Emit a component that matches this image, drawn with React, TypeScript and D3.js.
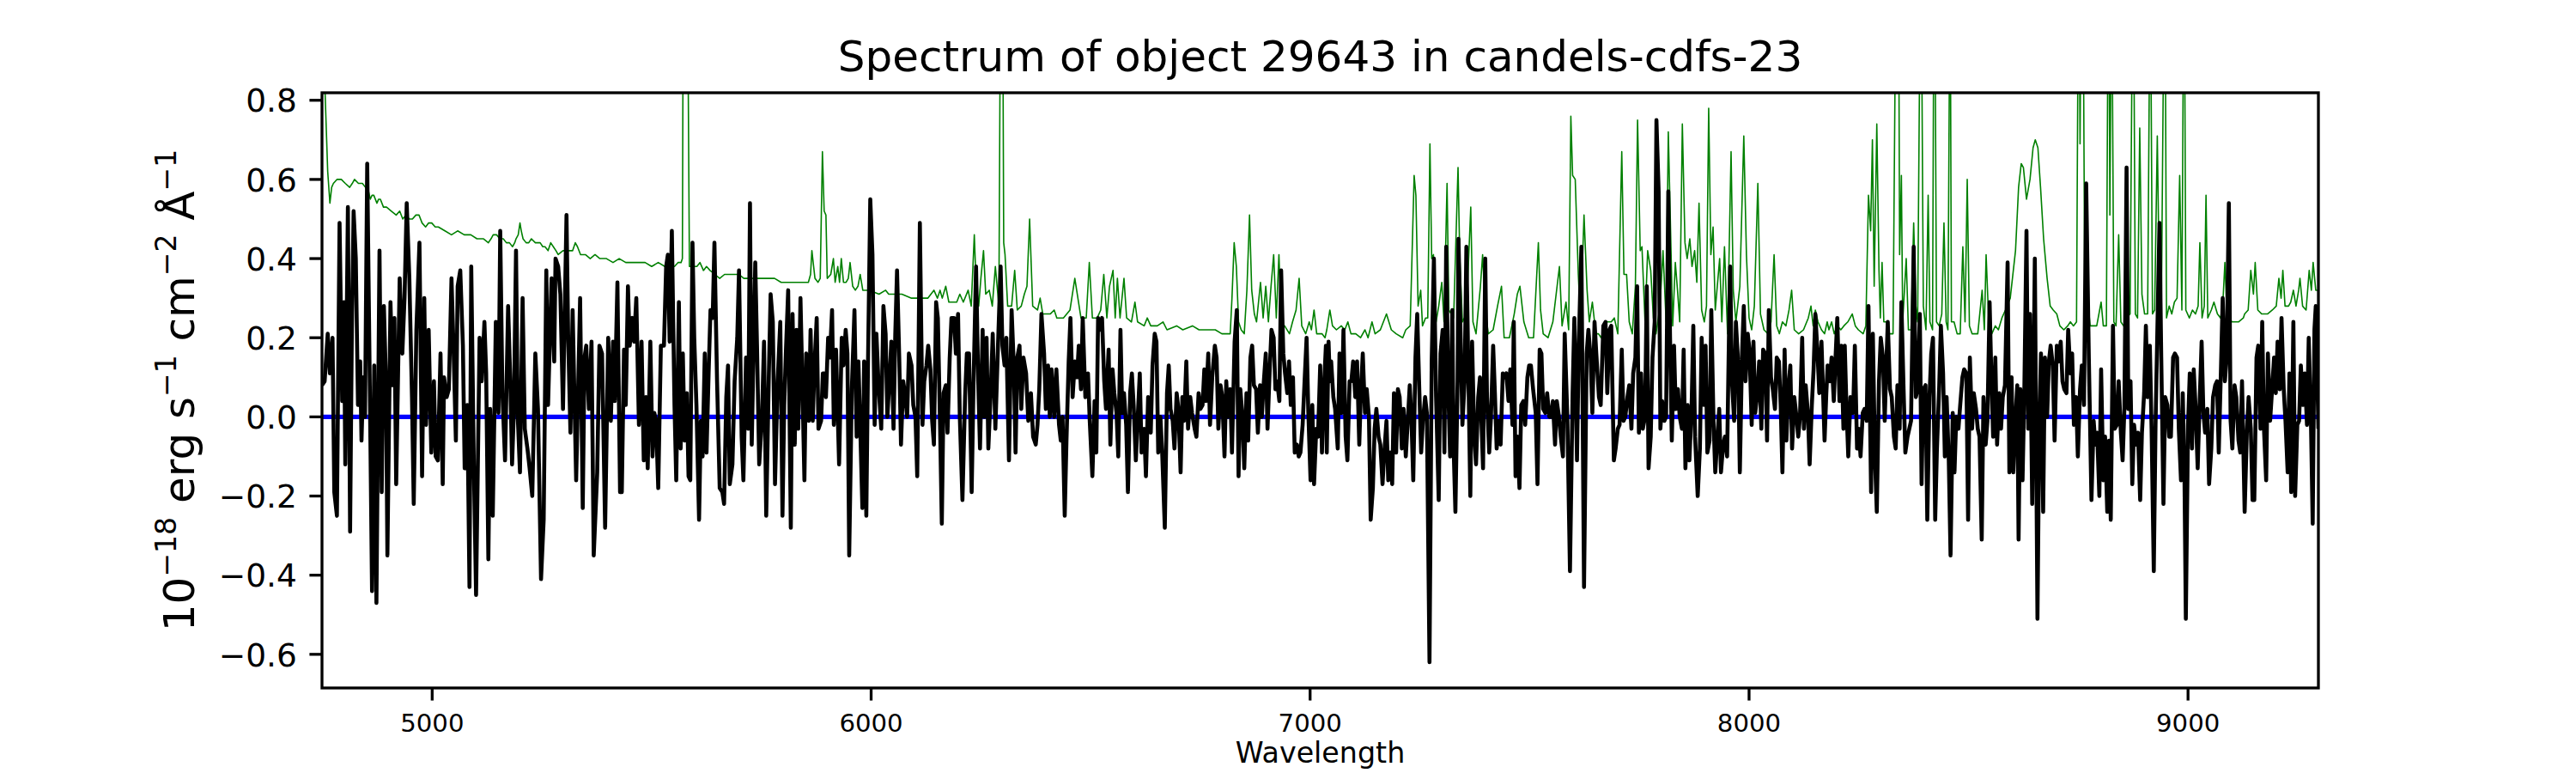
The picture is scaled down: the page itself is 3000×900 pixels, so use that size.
import React from "react";
import * as d3 from "d3";

const W = 3000;
const H = 900;
const plotLeft = 375;
const plotRight = 2700;
const plotTop = 108;
const plotBottom = 801;

const xDomain: [number, number] = [4749, 9297];
const yDomain: [number, number] = [-0.685, 0.819];
const xTicks = [5000, 6000, 7000, 8000, 9000];
const yTicks = [-0.6, -0.4, -0.2, 0, 0.2, 0.4, 0.6, 0.8];
const titleText = "Spectrum of object 29643 in candels-cdfs-23";
const xLabelText = "Wavelength";
const zeroLevel = 0;

// Observed flux (black), wavelength / value pairs
const flux1: [number, number][] = [
  [4749,0.08],[4755,0.09],[4762,0.21],[4767,0.11],[4773,0.20],[4777,-0.19],[4783,-0.25],[4789,0.49],[4795,0.04],[4799,0.29],[4802,-0.12],[4808,0.53],[4813,-0.29],[4817,0.22],[4821,0.52],[4826,0.40],[4831,0.03],[4836,0.14],[4839,-0.06],[4843,0.10],[4847,0.00],[4852,0.64],[4858,0.07],[4863,-0.44],[4868,0.13],[4873,-0.47],[4880,0.42],[4885,-0.19],[4890,0.28],[4895,0.08],[4898,-0.35],[4905,0.29],[4910,0.08],[4914,0.25],[4918,-0.17],[4926,0.35],[4932,0.16],[4937,0.30],[4942,0.54],[4948,0.35],[4954,0.05],[4958,-0.22],[4964,0.22],[4971,0.44],[4977,-0.15],[4982,0.30],[4986,-0.02],[4992,0.22],[4998,-0.09],[5004,0.09],[5008,-0.10],[5013,-0.11],[5019,0.16],[5024,-0.17],[5027,0.10],[5033,0.05],[5038,0.07],[5044,0.35],[5049,0.16],[5054,-0.06],[5058,0.33],[5064,0.37],[5070,0.18],[5074,-0.13],[5080,0.03],[5085,-0.43],[5089,0.38],[5095,-0.13],[5100,-0.45],[5108,0.20],[5113,0.09],[5119,0.24],[5123,0.11],[5128,-0.36],[5132,0.02],[5138,-0.25],[5145,0.24],[5151,0.01],[5155,0.47],[5160,0.06],[5166,-0.11],[5173,0.28],[5178,0.09],[5182,-0.12],[5186,0.01],[5191,0.42],[5195,0.00],[5200,-0.14],[5206,0.30],[5211,-0.03],[5217,-0.08],[5222,-0.13],[5228,-0.20],[5235,0.16],[5241,0.02],[5248,-0.41],[5254,-0.26],[5260,0.37],[5264,0.03],[5272,0.35],[5278,0.14],[5281,0.40],[5287,0.38],[5292,0.31],[5298,0.02],[5306,0.51],[5310,0.19],[5315,-0.04],[5320,0.27],[5328,-0.16],[5337,0.30],[5343,-0.23],[5347,0.15],[5351,0.18],[5357,0.02],[5363,0.19],[5368,-0.35],[5376,-0.14],[5381,0.18],[5387,0.16],[5394,-0.28],[5401,0.20],[5407,-0.01],[5412,0.19],[5416,0.04],[5422,0.34],[5428,-0.19],[5432,-0.19],[5437,0.17],[5441,0.03],[5446,0.33],[5450,0.18],[5456,0.25],[5460,0.19],[5465,0.30],[5471,-0.02],[5477,0.19],[5482,-0.11],[5487,0.05],[5491,-0.13],[5497,0.19],[5502,-0.10],[5506,0.01],[5510,-0.01],[5515,-0.18],[5521,0.18],[5528,0.18],[5533,0.38],[5537,0.41],[5541,0.19],[5546,0.47],[5552,0.03],[5556,-0.16],[5562,0.29],[5566,-0.08],[5571,0.16],[5575,-0.06],[5580,0.06],[5584,-0.15],[5588,-0.16],[5593,0.44],[5597,0.20],[5602,0.03],[5608,-0.26],[5612,-0.01],[5616,-0.10],[5621,0.16],[5625,-0.09],[5630,0.12],[5634,0.27],[5639,0.25],[5643,0.44],[5649,0.09],[5655,-0.18],[5661,-0.19],[5665,-0.22],[5670,0.05],[5674,0.13],[5678,-0.17],[5684,-0.12],[5689,0.09],[5695,0.20],[5699,0.37],[5705,-0.05],[5709,-0.16],[5715,0.15],[5720,-0.03],[5724,0.54],[5728,-0.07],[5736,0.39],[5740,0.18],[5745,-0.12],[5751,-0.01],[5756,0.19],[5761,-0.25],[5767,0.11],[5771,0.31],[5776,0.24],[5781,-0.17],[5787,0.09],[5793,0.24],[5798,-0.25],[5802,0.03],[5806,0.17],[5811,0.32],[5817,-0.28],[5821,0.26],[5826,-0.07],[5830,0.22],[5834,-0.03],[5839,0.30],[5843,0.10],[5848,-0.16],[5852,0.16],[5858,-0.01],[5862,0.22],[5867,-0.01],[5871,0.13],[5876,0.25],[5880,-0.03],[5886,-0.01],[5890,0.11]
];

const flux2: [number, number][] = [
  [5893,0.11],[5897,0.05],[5902,0.20],[5906,0.15],[5911,0.27],[5915,-0.02],[5920,0.17],[5927,-0.12],[5933,0.20],[5937,0.13],[5942,0.22],[5946,0.16],[5950,-0.35],[5956,0.07],[5962,0.27],[5967,-0.05],[5971,0.14],[5975,-0.02],[5980,-0.23],[5984,0.14],[5989,-0.25],[5993,0.15],[5998,0.55],[6003,0.41],[6008,-0.02],[6012,0.21],[6017,0.08],[6023,-0.03],[6028,0.28],[6033,0.21],[6037,0.00],[6042,0.10],[6046,0.19],[6051,-0.03],[6055,0.21],[6059,0.37],[6064,0.15],[6068,-0.07],[6073,0.09],[6077,0.06],[6082,0.00],[6086,0.16],[6092,0.13],[6096,0.03],[6101,0.00],[6105,-0.15],[6111,0.49],[6117,-0.02],[6121,0.09],[6126,0.13],[6130,0.18],[6135,0.12],[6139,-0.01],[6143,-0.07],[6148,0.29],[6152,0.25],[6157,-0.02],[6161,-0.27],[6165,0.06],[6170,0.08],[6174,-0.04],[6179,0.15],[6183,0.25],[6189,0.25],[6193,0.16],[6198,0.26],[6202,0.00],[6208,-0.21],[6214,0.05],[6218,0.16],[6223,0.16],[6229,-0.19],[6233,0.07],[6239,0.38],[6244,0.09],[6248,-0.08],[6254,0.22],[6258,0.00],[6263,0.20],[6267,-0.08],[6272,0.05],[6277,0.21],[6283,-0.03],[6289,0.18],[6295,0.38],[6299,0.18],[6304,0.13],[6308,0.20],[6314,-0.11],[6320,0.27],[6325,0.13],[6329,-0.09],[6333,0.15],[6338,0.18],[6342,0.02],[6347,0.15],[6353,0.11],[6358,-0.01],[6364,0.06],[6369,-0.05],[6375,-0.07],[6379,-0.02],[6383,0.07],[6388,0.26],[6394,0.16],[6398,0.02],[6403,0.13],[6407,0.00],[6411,0.12],[6417,0.00],[6422,0.12],[6428,-0.02],[6432,-0.06],[6436,0.00],[6441,-0.25],[6445,-0.06],[6450,0.14],[6454,0.25],[6459,0.05],[6464,0.14],[6469,0.10],[6473,0.18],[6478,0.07],[6482,0.25],[6488,0.05],[6494,0.11],[6498,-0.01],[6504,-0.15],[6509,0.04],[6513,-0.09],[6517,0.25],[6522,0.22],[6526,0.25],[6531,0.09],[6535,0.02],[6541,0.17],[6545,-0.07],[6550,0.12],[6554,0.06],[6559,0.01],[6563,-0.10],[6568,0.22],[6572,0.01],[6576,0.06],[6581,-0.02],[6585,-0.19],[6590,0.06],[6594,0.11],[6598,0.03],[6603,-0.11],[6607,-0.01],[6612,0.11],[6616,-0.09],[6622,-0.03],[6626,-0.15],[6631,0.05],[6637,-0.04],[6641,0.13],[6646,0.21],[6650,0.19],[6654,-0.09],[6659,0.00],[6663,-0.09],[6669,-0.28],[6674,0.06],[6678,0.13],[6682,0.02],[6687,-0.01],[6691,-0.08],[6696,0.06],[6700,0.02],[6705,-0.14],[6709,0.05],[6713,-0.01],[6718,0.14],[6722,-0.03],[6727,0.05],[6731,0.01],[6737,-0.03],[6741,-0.05],[6746,0.06],[6750,0.02],[6755,0.03],[6759,0.12],[6763,0.04],[6768,0.16],[6772,-0.02],[6777,0.10],[6783,0.18],[6787,0.15],[6791,-0.03],[6796,0.08],[6800,0.05],[6805,-0.10],[6809,0.09],[6813,0.00],[6818,0.07],[6822,-0.09],[6828,0.19],[6833,0.27],[6837,-0.15],[6841,0.07],[6846,0.00],[6850,-0.13],[6855,0.06],[6859,-0.06],[6864,0.15],[6868,0.18],[6872,0.08],[6877,0.07],[6881,-0.04],[6886,0.08],[6890,0.00],[6894,0.08],[6899,0.16],[6903,-0.03],[6908,0.12],[6912,0.22],[6917,0.20],[6921,0.07],[6925,0.09],[6930,0.04],[6934,0.37],[6939,0.16],[6943,0.11],[6948,0.06],[6952,0.14],[6956,0.03],[6961,0.10],[6965,-0.09],[6970,-0.07],[6974,-0.10],[6978,-0.09],[6983,-0.02],[6987,0.08],[6992,0.20],[6996,0.01],[7001,-0.16],[7005,0.03],[7009,-0.17],[7014,-0.03],[7018,-0.05],[7023,0.13],[7027,-0.09],[7031,0.06],[7036,0.18]
];

const flux3: [number, number][] = [
  [7038,-0.09],[7042,0.19],[7045,0.09],[7048,0.14],[7053,0.05],[7057,0.02],[7063,-0.08],[7067,0.16],[7072,0.01],[7076,0.22],[7081,-0.05],[7085,-0.11],[7090,0.09],[7094,0.09],[7098,0.14],[7103,0.05],[7107,0.14],[7112,-0.07],[7116,0.07],[7120,0.16],[7125,0.01],[7129,0.07],[7134,0.00],[7138,-0.26],[7143,-0.18],[7147,-0.03],[7151,0.02],[7156,-0.05],[7160,-0.07],[7165,-0.17],[7169,-0.09],[7174,-0.01],[7178,-0.16],[7182,-0.09],[7187,-0.17],[7191,0.06],[7196,-0.09],[7200,0.07],[7204,0.05],[7209,-0.08],[7213,0.02],[7218,-0.10],[7222,-0.02],[7227,0.08],[7231,-0.01],[7235,-0.16],[7240,0.15],[7244,0.26],[7249,0.06],[7253,-0.09],[7257,-0.01],[7262,0.05],[7266,0.01],[7272,-0.62],[7277,0.14],[7282,0.40],[7287,0.05],[7293,-0.21],[7297,0.16],[7302,0.22],[7306,-0.09],[7310,0.43],[7315,0.06],[7319,-0.10],[7324,0.27],[7327,-0.08],[7331,-0.24],[7336,0.09],[7338,0.45],[7343,0.20],[7347,-0.02],[7352,0.09],[7356,0.43],[7361,0.08],[7365,-0.20],[7369,0.19],[7374,-0.05],[7378,-0.12],[7383,0.05],[7387,0.10],[7390,0.00],[7394,-0.13],[7399,0.40],[7403,0.05],[7408,-0.09],[7412,0.00],[7417,0.18],[7421,0.06],[7425,-0.08],[7430,-0.01],[7434,-0.07],[7439,0.11],[7443,0.10],[7447,0.11],[7452,0.04],[7456,0.12],[7461,-0.02],[7464,0.24],[7468,-0.15],[7472,-0.05],[7477,-0.18],[7481,0.03],[7486,0.04],[7490,-0.02],[7495,0.10],[7499,0.13],[7503,0.13],[7508,0.07],[7514,0.01],[7518,-0.17],[7523,0.17],[7527,0.16],[7531,0.02],[7536,0.01],[7540,0.06],[7545,0.00],[7549,0.00],[7553,0.04],[7558,-0.07],[7562,0.04],[7567,0.00],[7571,-0.05],[7576,-0.10],[7580,0.21],[7586,0.00],[7592,-0.39],[7598,0.06],[7602,0.25],[7608,-0.11],[7612,0.18],[7618,0.43],[7624,-0.43],[7630,0.16],[7634,0.22],[7639,0.15],[7643,0.01],[7648,0.24],[7652,0.16],[7658,0.05],[7662,0.03],[7668,0.23],[7673,0.24],[7677,0.06],[7682,0.22],[7686,0.23],[7692,-0.11],[7696,-0.08],[7701,-0.03],[7705,-0.02],[7710,0.17],[7714,-0.01],[7718,0.00],[7723,0.05],[7727,0.08],[7732,-0.03],[7736,0.11],[7741,0.15],[7745,0.33],[7749,-0.04],[7754,0.11],[7758,-0.03],[7763,0.00],[7767,0.33],[7771,-0.13],[7776,-0.05],[7780,0.15],[7785,0.24],[7789,0.75],[7794,0.57],[7798,-0.03],[7802,0.04],[7807,-0.01],[7811,0.00],[7816,0.57],[7820,0.20],[7824,-0.06],[7829,0.18],[7833,0.02],[7838,0.07],[7842,0.00],[7847,-0.03],[7851,0.17],[7855,-0.13],[7860,0.03],[7864,-0.11],[7869,0.02],[7873,0.23],[7877,-0.05],[7883,-0.20],[7888,-0.08],[7892,0.20],[7897,0.03],[7901,0.18],[7905,-0.09],[7910,-0.06],[7914,0.27],[7919,-0.01],[7923,-0.14],[7928,-0.05],[7932,0.02],[7936,-0.14],[7941,-0.07],[7945,-0.05],[7950,-0.10],[7954,0.19],[7957,0.38],[7961,0.09],[7966,-0.01],[7970,0.24],[7975,0.14],[7979,-0.14],[7984,0.16],[7988,0.28],[7992,0.09],[7997,0.21],[8001,0.17],[8006,-0.02],[8010,0.19],[8014,0.01],[8019,0.06],[8023,0.14],[8028,-0.03],[8032,0.17],[8037,0.16],[8041,-0.06],[8045,0.27],[8050,0.10],[8054,0.07],[8059,0.02],[8063,0.15],[8068,0.14],[8072,0.03],[8076,-0.14],[8081,0.17],[8085,-0.06],[8090,0.08],[8094,0.13],[8098,-0.08],[8103,0.05],[8107,0.01],[8112,-0.05],[8116,0.00],[8121,0.20],[8125,-0.03],[8129,0.08],[8134,0.01],[8138,-0.12],[8143,0.03],[8147,0.12],[8151,0.26],[8156,0.16],[8160,0.06],[8165,0.19]
];

const flux4: [number, number][] = [
  [8172,-0.06],[8176,0.06],[8179,0.13],[8184,0.09],[8188,0.15],[8193,0.04],[8197,0.15],[8201,0.25],[8206,0.04],[8210,0.18],[8215,-0.03],[8218,0.18],[8222,0.02],[8226,-0.10],[8231,0.05],[8237,0.01],[8241,0.18],[8246,-0.08],[8250,-0.03],[8254,-0.10],[8259,0.01],[8263,0.02],[8268,-0.01],[8272,0.28],[8278,-0.19],[8282,0.21],[8287,-0.11],[8291,-0.24],[8296,0.09],[8300,0.20],[8305,0.15],[8309,-0.01],[8313,0.14],[8316,0.24],[8321,0.07],[8325,0.05],[8330,-0.05],[8334,-0.08],[8338,0.08],[8343,-0.03],[8347,0.29],[8352,0.07],[8356,-0.09],[8361,-0.05],[8365,-0.03],[8369,-0.01],[8375,0.43],[8380,0.05],[8384,0.07],[8389,0.26],[8393,-0.17],[8397,0.07],[8402,0.08],[8406,-0.26],[8411,0.05],[8415,0.16],[8419,0.20],[8424,-0.26],[8428,-0.08],[8433,0.07],[8437,0.23],[8442,0.11],[8446,-0.10],[8450,0.05],[8455,-0.11],[8459,-0.35],[8464,0.01],[8468,-0.14],[8472,0.00],[8477,-0.03],[8481,0.03],[8486,0.10],[8490,0.12],[8495,0.11],[8499,-0.26],[8503,0.15],[8508,-0.03],[8512,0.06],[8517,0.02],[8521,-0.03],[8525,-0.05],[8530,-0.31],[8534,0.05],[8539,-0.07],[8543,-0.01],[8548,0.29],[8552,0.10],[8556,-0.05],[8561,0.15],[8565,-0.07],[8570,0.06],[8574,-0.03],[8578,0.05],[8583,0.08],[8589,0.39],[8593,-0.14],[8598,0.10],[8602,-0.14],[8606,-0.02],[8611,0.08],[8614,-0.31],[8618,0.07],[8623,-0.16],[8627,0.06],[8632,0.47],[8636,-0.03],[8640,0.26],[8645,-0.22],[8651,0.40],[8657,-0.51],[8661,-0.03],[8665,0.16],[8670,-0.24],[8674,0.15],[8679,0.00],[8683,0.14],[8687,0.18],[8692,0.13],[8696,-0.06],[8701,0.18],[8705,0.14],[8710,0.19],[8714,0.09],[8718,0.07],[8723,0.06],[8727,0.22],[8732,0.11],[8736,0.16],[8740,-0.02],[8745,0.05],[8749,-0.10],[8754,0.07],[8758,0.13],[8763,0.03],[8768,0.59],[8774,0.15],[8780,-0.21],[8785,-0.01],[8789,-0.07],[8793,-0.04],[8798,-0.20],[8802,0.12],[8807,-0.16],[8811,-0.05],[8816,-0.24],[8820,-0.06],[8824,-0.26],[8829,0.23],[8833,-0.03],[8838,-0.02],[8842,0.09],[8847,-0.04],[8851,-0.11],[8855,0.02],[8860,0.63],[8864,0.02],[8869,0.09],[8873,-0.17],[8877,-0.02],[8882,-0.07],[8886,-0.04],[8891,-0.21],[8895,-0.04],[8900,0.06],[8904,0.23],[8908,0.05],[8913,0.18],[8917,-0.03],[8922,-0.39],[8926,-0.02],[8930,0.21],[8935,0.49],[8939,0.15],[8944,-0.22],[8948,0.05],[8953,0.03],[8957,-0.05],[8961,-0.05],[8966,0.15],[8970,0.16],[8975,0.15],[8979,-0.03],[8984,-0.16],[8988,0.06],[8992,-0.16],[8995,-0.51],[9000,-0.02],[9004,0.11],[9009,-0.08],[9013,0.12],[9017,0.03],[9022,-0.13],[9026,0.02],[9031,0.19],[9035,0.01],[9039,-0.04],[9044,0.02],[9048,-0.17],[9053,-0.08],[9057,0.05],[9062,0.08],[9066,0.09],[9070,-0.09],[9075,0.12],[9079,0.30],[9084,0.09],[9088,0.15],[9093,0.54],[9097,-0.01],[9101,-0.08],[9106,0.08],[9110,0.05],[9115,-0.06],[9119,-0.09],[9123,0.09],[9129,-0.24],[9134,-0.04],[9138,0.05],[9143,-0.03],[9147,-0.21],[9151,-0.21],[9156,0.15],[9160,0.18],[9165,-0.03],[9169,0.24],[9173,-0.03],[9178,-0.16],[9182,0.16],[9187,-0.01],[9191,0.06],[9196,0.15],[9200,0.06],[9204,0.19],[9209,0.07],[9213,0.25],[9218,0.07],[9222,-0.01],[9227,-0.14],[9231,0.11],[9235,-0.19],[9240,0.24],[9244,-0.20],[9249,-0.02],[9253,-0.01],[9257,0.13],[9262,0.03],[9266,0.11],[9271,-0.02],[9275,0.20],[9280,-0.01],[9284,-0.27],[9288,0.22],[9291,0.28],[9297,-0.03]
];

// Uncertainty / sky spectrum (green)
const err1: [number, number][] = [
  [4749,1.0],[4756,0.82],[4762,0.62],[4767,0.54],[4771,0.58],[4775,0.59],[4783,0.60],[4793,0.60],[4802,0.59],[4812,0.58],[4818,0.59],[4823,0.60],[4832,0.59],[4841,0.59],[4848,0.58],[4855,0.57],[4859,0.55],[4863,0.56],[4867,0.56],[4874,0.54],[4878,0.55],[4882,0.55],[4889,0.53],[4896,0.53],[4907,0.52],[4918,0.51],[4926,0.52],[4933,0.50],[4940,0.51],[4948,0.50],[4955,0.50],[4963,0.51],[4970,0.51],[4977,0.49],[4985,0.48],[4992,0.49],[4999,0.49],[5007,0.48],[5014,0.48],[5029,0.47],[5044,0.46],[5058,0.47],[5073,0.46],[5088,0.46],[5102,0.45],[5117,0.45],[5128,0.44],[5134,0.45],[5139,0.46],[5147,0.46],[5154,0.45],[5162,0.45],[5169,0.44],[5176,0.44],[5183,0.43],[5188,0.44],[5191,0.45],[5196,0.46],[5200,0.49],[5203,0.47],[5207,0.45],[5214,0.44],[5220,0.44],[5226,0.45],[5235,0.44],[5246,0.44],[5252,0.43],[5257,0.43],[5264,0.42],[5270,0.44],[5276,0.43],[5282,0.42],[5287,0.41],[5298,0.42],[5309,0.42],[5320,0.42],[5326,0.44],[5331,0.43],[5338,0.41],[5349,0.41],[5360,0.40],[5371,0.41],[5382,0.40],[5397,0.40],[5412,0.39],[5426,0.40],[5441,0.39],[5456,0.39],[5471,0.39],[5485,0.39],[5500,0.38],[5515,0.39],[5530,0.38],[5541,0.38],[5552,0.38],[5560,0.39],[5567,0.39],[5570,0.40],[5573,1.5],[5579,1.6],[5583,0.9],[5586,0.38],[5595,0.38],[5603,0.38],[5610,0.39],[5618,0.37],[5625,0.38],[5633,0.37],[5644,0.36],[5655,0.35],[5666,0.36],[5677,0.36],[5688,0.36],[5699,0.36],[5710,0.35],[5721,0.35],[5736,0.35],[5751,0.35],[5765,0.35],[5780,0.35],[5795,0.34],[5809,0.34],[5824,0.34],[5839,0.34],[5850,0.34],[5857,0.34],[5862,0.36],[5865,0.42],[5869,0.38],[5872,0.35],[5879,0.34],[5884,0.35],[5889,0.67]
];

const err2: [number, number][] = [
  [5893,0.52],[5897,0.51],[5900,0.35],[5908,0.36],[5914,0.40],[5918,0.34],[5924,0.38],[5928,0.34],[5932,0.40],[5937,0.34],[5943,0.34],[5948,0.35],[5952,0.39],[5958,0.33],[5964,0.32],[5970,0.33],[5975,0.36],[5981,0.32],[5996,0.32],[6018,0.31],[6033,0.32],[6040,0.31],[6055,0.31],[6070,0.31],[6092,0.30],[6114,0.30],[6129,0.30],[6143,0.32],[6151,0.30],[6157,0.32],[6162,0.30],[6170,0.33],[6177,0.29],[6195,0.29],[6202,0.31],[6210,0.29],[6221,0.32],[6228,0.28],[6235,0.46],[6239,0.34],[6245,0.28],[6250,0.35],[6256,0.42],[6261,0.31],[6269,0.32],[6276,0.28],[6283,0.38],[6291,0.28],[6296,1.4],[6299,1.3],[6302,0.44],[6305,0.41],[6311,0.28],[6320,0.28],[6327,0.37],[6333,0.27],[6342,0.28],[6349,0.31],[6355,0.33],[6361,0.50],[6368,0.28],[6379,0.27],[6385,0.30],[6391,0.26],[6401,0.26],[6408,0.26],[6417,0.27],[6423,0.25],[6438,0.25],[6453,0.27],[6464,0.35],[6471,0.30],[6478,0.25],[6490,0.25],[6497,0.39],[6504,0.25],[6515,0.25],[6523,0.27],[6530,0.36],[6537,0.25],[6543,0.33],[6551,0.37],[6556,0.25],[6561,0.35],[6567,0.25],[6576,0.35],[6582,0.25],[6593,0.24],[6601,0.29],[6607,0.24],[6622,0.23],[6629,0.25],[6637,0.23],[6652,0.23],[6665,0.24],[6674,0.22],[6696,0.23],[6710,0.22],[6732,0.23],[6747,0.22],[6769,0.22],[6784,0.22],[6799,0.21],[6818,0.21],[6822,0.30],[6827,0.44],[6832,0.38],[6837,0.24],[6843,0.22],[6850,0.21],[6856,0.32],[6862,0.51],[6867,0.32],[6873,0.26],[6878,0.24],[6887,0.34],[6893,0.25],[6899,0.33],[6905,0.24],[6911,0.33],[6917,0.41],[6923,0.25],[6929,0.41],[6935,0.22],[6942,0.23],[6953,0.21],[6960,0.24],[6968,0.27],[6975,0.35],[6981,0.23],[6990,0.21],[6998,0.24],[7003,0.22],[7009,0.27],[7015,0.21],[7027,0.21],[7034,0.20]
];

const err3: [number, number][] = [
  [7038,0.22],[7045,0.27],[7051,0.23],[7060,0.22],[7071,0.23],[7079,0.22],[7086,0.24],[7093,0.21],[7104,0.21],[7115,0.20],[7125,0.22],[7132,0.20],[7141,0.24],[7148,0.21],[7160,0.22],[7174,0.26],[7185,0.22],[7196,0.21],[7211,0.20],[7218,0.22],[7228,0.23],[7237,0.61],[7241,0.56],[7246,0.28],[7252,0.32],[7256,0.23],[7263,0.25],[7268,0.25],[7273,0.69],[7277,0.40],[7281,0.41],[7287,0.24],[7293,0.28],[7300,0.34],[7305,0.24],[7312,0.59],[7316,0.27],[7327,0.25],[7337,0.63],[7341,0.40],[7347,0.24],[7356,0.26],[7366,0.53],[7371,0.24],[7378,0.21],[7388,0.33],[7393,0.41],[7399,0.27],[7406,0.21],[7417,0.22],[7427,0.28],[7436,0.33],[7442,0.20],[7454,0.20],[7465,0.26],[7472,0.31],[7478,0.33],[7487,0.24],[7498,0.20],[7509,0.20],[7520,0.44],[7525,0.27],[7531,0.21],[7542,0.20],[7553,0.24],[7568,0.38],[7574,0.23],[7583,0.29],[7589,0.22],[7594,0.76],[7598,0.61],[7604,0.60],[7611,0.36],[7616,0.24],[7624,0.51],[7631,0.32],[7636,0.24],[7643,0.29],[7651,0.21],[7657,0.21],[7663,0.20],[7675,0.24],[7686,0.24],[7693,0.25],[7701,0.21],[7710,0.67],[7715,0.36],[7721,0.36],[7727,0.24],[7734,0.21],[7741,0.33],[7746,0.75],[7752,0.42],[7756,0.43],[7763,0.24],[7769,0.42],[7776,0.37],[7782,0.25],[7788,0.21],[7797,0.28],[7804,0.42],[7811,0.24],[7816,0.72],[7820,0.53],[7826,0.23],[7832,0.39],[7837,0.32],[7842,0.24],[7848,0.74],[7854,0.44],[7859,0.40],[7865,0.45],[7870,0.38],[7876,0.42],[7881,0.34],[7886,0.54],[7892,0.27],[7898,0.24],[7903,0.28],[7908,0.78],[7913,0.41],[7918,0.48],[7923,0.27],[7933,0.40],[7938,0.24],[7944,0.43],[7951,0.21],[7959,0.67],[7964,0.32],[7970,0.24],[7979,0.33],[7988,0.71],[7994,0.41],[8000,0.25],[8006,0.22],[8012,0.28],[8020,0.59],[8026,0.26],[8034,0.22],[8043,0.21],[8050,0.24],[8057,0.41],[8063,0.23],[8069,0.21],[8076,0.24],[8084,0.23],[8091,0.27],[8097,0.32],[8103,0.22],[8113,0.21],[8124,0.22],[8135,0.25],[8141,0.28],[8146,0.23],[8151,0.27],[8157,0.24],[8165,0.22]
];

const err4: [number, number][] = [
  [8172,0.21],[8178,0.24],[8182,0.22],[8188,0.24],[8194,0.21],[8201,0.23],[8209,0.22],[8216,0.23],[8225,0.24],[8235,0.26],[8242,0.23],[8249,0.22],[8260,0.21],[8266,0.23],[8272,0.56],[8277,0.47],[8281,0.70],[8285,0.33],[8291,0.74],[8296,0.37],[8299,0.25],[8303,0.39],[8307,0.24],[8313,0.24],[8319,0.21],[8328,0.21],[8335,1.2],[8340,1.3],[8343,0.41],[8347,0.61],[8350,0.24],[8358,0.40],[8363,0.22],[8369,0.22],[8375,0.49],[8380,0.28],[8384,0.24],[8390,1.1],[8393,1.0],[8397,0.28],[8403,0.22],[8408,0.56],[8412,0.24],[8418,0.22],[8422,1.4],[8427,0.24],[8433,0.23],[8439,0.26],[8444,0.49],[8449,0.24],[8453,0.22],[8458,1.2],[8461,0.24],[8467,0.24],[8474,0.21],[8481,0.21],[8487,0.43],[8492,0.24],[8497,0.60],[8502,0.23],[8508,0.21],[8514,0.21],[8521,0.21],[8531,0.32],[8536,0.22],[8540,0.41],[8546,0.24],[8553,0.21],[8561,0.23],[8568,0.22],[8576,0.25],[8584,0.27],[8595,0.30],[8607,0.42],[8614,0.58],[8620,0.64],[8625,0.63],[8632,0.55],[8640,0.60],[8647,0.68],[8652,0.70],[8658,0.68],[8664,0.58],[8671,0.45],[8679,0.35],[8686,0.28],[8693,0.27],[8701,0.26],[8708,0.23],[8717,0.22],[8726,0.23],[8732,0.24],[8739,0.23],[8746,0.24],[8751,1.3],[8754,0.69],[8757,1.2],[8761,1.1],[8765,0.25],[8771,0.30],[8777,0.23],[8785,0.23],[8792,0.23],[8802,0.29],[8807,0.23],[8814,0.23],[8819,1.3],[8822,0.51],[8826,1.2],[8831,0.24],[8836,0.23],[8842,0.46],[8847,0.24],[8853,0.23],[8860,0.25],[8868,0.26],[8875,1.3],[8880,0.26],[8885,0.25],[8890,0.73],[8895,0.31],[8901,0.26],[8908,0.26],[8914,1.2],[8919,0.26],[8924,0.27],[8930,0.71],[8935,0.30],[8939,0.24],[8947,1.3],[8951,0.25],[8957,0.28],[8963,0.26],[8969,0.29],[8975,0.30],[8981,0.61],[8986,0.27],[8991,1.3],[8995,0.27],[9003,0.25],[9010,0.27],[9017,0.26],[9023,0.28],[9027,0.44],[9032,0.25],[9037,0.28],[9041,0.56],[9045,0.25],[9053,0.27],[9059,0.29],[9067,0.26],[9074,0.25],[9079,0.28],[9084,0.39],[9089,0.25],[9101,0.24],[9115,0.24],[9126,0.25],[9129,0.26],[9137,0.27],[9143,0.37],[9149,0.31],[9153,0.39],[9159,0.27],[9168,0.26],[9181,0.26],[9192,0.27],[9201,0.28],[9207,0.35],[9212,0.30],[9216,0.37],[9221,0.28],[9229,0.28],[9234,0.29],[9240,0.32],[9246,0.28],[9252,0.32],[9255,0.35],[9261,0.28],[9269,0.27],[9276,0.37],[9281,0.32],[9285,0.39],[9291,0.32],[9297,0.32]
];

const FONT = "DejaVu Sans";

export default function App() {
  const x = d3.scaleLinear().domain(xDomain).range([plotLeft, plotRight]);
  const y = d3.scaleLinear().domain(yDomain).range([plotBottom, plotTop]);
  const line = d3
    .line<[number, number]>()
    .x((d) => x(d[0]))
    .y((d) => y(d[1]));

  const flux = [...flux1, ...flux2, ...flux3, ...flux4];
  const err = [...err1, ...err2, ...err3, ...err4];
  const zero: [number, number][] = [
    [xDomain[0], zeroLevel],
    [xDomain[1], zeroLevel],
  ];
  const fmtY = d3.format(".1f");
  const tickLen = 14.6;
  const tickPad = 14.6;
  const supSize = 33;
  const supRise = 21;

  return (
    <svg
      width={W}
      height={H}
      style={{ position: "absolute", left: 0, top: 0, background: "#fff" }}
      fontFamily={FONT}
    >
      <rect x={0} y={0} width={W} height={H} fill="#ffffff" />
      <defs>
        <clipPath id="plotClip">
          <rect x={plotLeft} y={plotTop} width={plotRight - plotLeft} height={plotBottom - plotTop} />
        </clipPath>
      </defs>
      <g clipPath="url(#plotClip)">
        <path d={line(err) || ""} fill="none" stroke="#008000" strokeWidth={1.6} strokeLinejoin="round" />
        <path d={line(zero) || ""} fill="none" stroke="#0000ff" strokeWidth={5.2} />
        <path d={line(flux) || ""} fill="none" stroke="#000000" strokeWidth={4.6} strokeLinejoin="round" />
      </g>
      <rect
        x={plotLeft}
        y={plotTop}
        width={plotRight - plotLeft}
        height={plotBottom - plotTop}
        fill="none"
        stroke="#000"
        strokeWidth={3.3}
      />
      {xTicks.map((t) => (
        <g key={"x" + t}>
          <line x1={x(t)} x2={x(t)} y1={plotBottom} y2={plotBottom + tickLen} stroke="#000" strokeWidth={3.3} />
          <text
            x={x(t)}
            y={plotBottom + tickLen + tickPad + 21.3}
            fontSize={29.2}
            textAnchor="middle"
            fill="#000"
          >
            {t}
          </text>
        </g>
      ))}
      {yTicks.map((t) => (
        <g key={"y" + t}>
          <line x1={plotLeft - tickLen} x2={plotLeft} y1={y(t)} y2={y(t)} stroke="#000" strokeWidth={3.3} />
          <text
            x={plotLeft - tickLen - tickPad}
            y={y(t) + 13.7}
            fontSize={37.5}
            textAnchor="end"
            fill="#000"
          >
            {fmtY(t)}
          </text>
        </g>
      ))}
      <text x={(plotLeft + plotRight) / 2} y={888} fontSize={33.3} textAnchor="middle" fill="#000">
        {xLabelText}
      </text>
      <text x={(plotLeft + plotRight) / 2} y={83} fontSize={50} textAnchor="middle" fill="#000">
        {titleText}
      </text>
      <text
        transform={`translate(226, ${(plotTop + plotBottom) / 2}) rotate(-90)`}
        fontSize={50}
        textAnchor="middle"
        fill="#000"
      >
        <tspan>10</tspan>
        <tspan fontSize={supSize} dy={-supRise}>{"\u221218"}</tspan>
        <tspan dy={supRise}>{" erg s"}</tspan>
        <tspan fontSize={supSize} dy={-supRise}>{"\u22121"}</tspan>
        <tspan dy={supRise}>{" cm"}</tspan>
        <tspan fontSize={supSize} dy={-supRise}>{"\u22122"}</tspan>
        <tspan dy={supRise}>{" \u00c5"}</tspan>
        <tspan fontSize={supSize} dy={-supRise}>{"\u22121"}</tspan>
      </text>
    </svg>
  );
}
